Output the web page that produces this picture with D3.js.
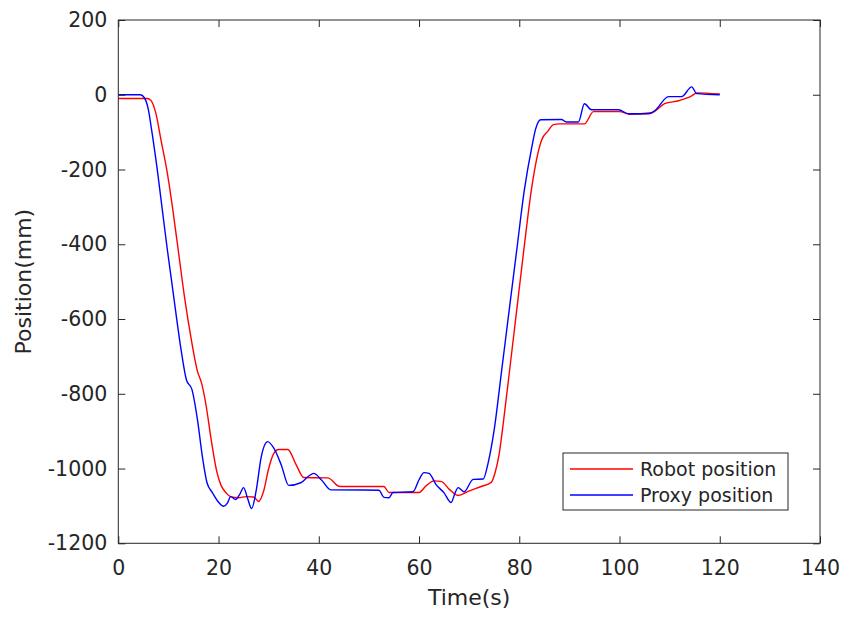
<!DOCTYPE html>
<html>
<head>
<meta charset="utf-8">
<script src="https://cdn.jsdelivr.net/npm/d3@7"></script>
<style>
  body { margin: 0; background: #fff; }
  svg { display: block; font-family: "DejaVu Sans", sans-serif; }
</style>
</head>
<body>
<svg id="chart" width="845" height="619"></svg>
<script>
// tick values
const xTicks = [0, 20, 40, 60, 80, 100, 120, 140];
const yTicks = [200, 0, -200, -400, -600, -800, -1000, -1200];

// Robot position (red) - time (s) and position (mm)
const robotTime = [0, 5.8, 6.5, 7.5, 8.5, 9.7, 10.8, 12, 13.2, 14.5, 15.8, 16.6, 17.5, 18.5, 19.7, 20.5,
  21.5, 22.4, 24, 25.5, 27, 28, 29, 30, 31, 32, 33.8, 35.5, 37, 41.8, 44.2, 53, 54, 60, 61.5, 63,
  64.5, 66, 67.8, 69.8, 72.4, 74.4, 75.2, 76, 76.8, 78, 79.5, 81, 82.4, 83.5, 84.5, 85.8, 86.8,
  88, 93, 94.8, 100, 102, 106.4, 109, 111.8, 114.4, 115.4, 120];
const robotPos = [-10, -10, -15, -50, -120, -203, -300, -420, -540, -650, -740, -771, -830, -920, -1011, -1045,
  -1065, -1075, -1078, -1075, -1076, -1088, -1060, -1000, -960, -949, -949, -990, -1024, -1025, -1048, -1048, -1064, -1064, -1045, -1033,
  -1035, -1055, -1072, -1061, -1048, -1037, -1010, -960, -880, -745, -575, -405, -256, -170, -120, -96, -80,
  -78, -78, -45, -45, -52, -48, -24, -16, -3, 5, 2];

// Proxy position (blue)
const proxyTime = [0, 4.4, 5.2, 6, 6.6, 7.8, 8.8, 9.8, 10.5, 11.5, 12.5, 13.6, 14.7, 15.8, 16.8, 17.7,
  18.8, 20, 21, 21.8, 22.4, 23.4, 24.2, 25, 25.8, 26.6, 27.5, 28.5, 29.8, 31, 32.5, 34, 36.4, 38,
  39, 40.5, 42.4, 52, 53, 54, 54.8, 58.8, 60, 61, 62, 63.4, 65, 66.4, 67.2, 67.8, 69, 70.8, 72.8,
  73.8, 75, 76.5, 78, 79.5, 81, 82.5, 83.3, 84.3, 88.4, 89.4, 91.8, 93, 94.4, 99.8, 101.8, 105.8,
  107, 109.8, 112.4, 114.4, 115.4, 120];
const proxyPos = [0, 0, -8, -40, -90, -203, -310, -416, -485, -585, -680, -763, -789, -870, -970, -1038,
  -1065, -1090, -1101, -1092, -1075, -1083, -1070, -1051, -1080, -1107, -1060, -970, -928, -945, -990, -1045, -1038, -1020,
  -1013, -1030, -1057, -1058, -1077, -1078, -1064, -1062, -1030, -1011, -1013, -1043, -1065, -1091, -1065, -1051, -1062, -1029, -1028,
  -984, -896, -736, -575, -415, -256, -140, -90, -67, -66, -73, -73, -24, -40, -40, -51, -51,
  -43, -5, -5, 21, 3, 0];

const seriesNames = ['Robot position', 'Proxy position'];
const seriesColors = ['#ff0000', '#0000ff'];

const svg = d3.select('#chart');
const margin = { left: 118.3, top: 20, right: 25, bottom: 75.7 };
const width = 845 - margin.left - margin.right;
const height = 619 - margin.top - margin.bottom;
const axisColor = '#262626';

const x = d3.scaleLinear().domain([0, 140]).range([0, width]);
const y = d3.scaleLinear().domain([-1200, 200]).range([height, 0]);

const g = svg.append('g').attr('transform', `translate(${margin.left},${margin.top})`);

// series
const line = d3.line()
  .x(d => x(d[0]))
  .y(d => y(d[1]))
  .curve(d3.curveMonotoneX);

const robot = robotTime.map((t, i) => [t, robotPos[i]]);
const proxy = proxyTime.map((t, i) => [t, proxyPos[i]]);

[robot, proxy].forEach((data, i) => {
  g.append('path')
    .datum(data)
    .attr('fill', 'none')
    .attr('stroke', seriesColors[i])
    .attr('stroke-width', 1.4)
    .attr('stroke-linejoin', 'round')
    .attr('d', line);
});

// axes (ticks pointing inward, on all sides)
const fmt = v => String(v);
g.append('g')
  .attr('transform', `translate(0,${height})`)
  .call(d3.axisBottom(x).tickValues(xTicks).tickFormat(fmt).tickSizeInner(-7).tickSizeOuter(0).tickPadding(17));
g.append('g')
  .call(d3.axisLeft(y).tickValues(yTicks).tickFormat(fmt).tickSizeInner(-7).tickSizeOuter(0).tickPadding(11));
g.append('g')
  .call(d3.axisTop(x).tickValues(xTicks).tickSizeInner(-7).tickSizeOuter(0).tickFormat(''));
g.append('g')
  .attr('transform', `translate(${width},0)`)
  .call(d3.axisRight(y).tickValues(yTicks).tickSizeInner(-7).tickSizeOuter(0).tickFormat(''));

g.selectAll('.domain').remove();
g.selectAll('.tick line').attr('stroke', axisColor);
g.selectAll('.tick text')
  .attr('fill', axisColor)
  .style('font-size', '20.5px')
  .style('font-family', '"DejaVu Sans", sans-serif');

// box
g.append('rect')
  .attr('width', width)
  .attr('height', height)
  .attr('fill', 'none')
  .attr('stroke', axisColor)
  .attr('stroke-width', 1);

// axis labels
svg.append('text')
  .attr('x', margin.left + width / 2)
  .attr('y', 605)
  .attr('text-anchor', 'middle')
  .attr('fill', axisColor)
  .style('font-size', '22px')
  .text('Time(s)');

svg.append('text')
  .attr('transform', `translate(31,${margin.top + height / 2}) rotate(-90)`)
  .attr('text-anchor', 'middle')
  .attr('fill', axisColor)
  .style('font-size', '22px')
  .text('Position(mm)');

// legend
const legend = svg.append('g').attr('transform', 'translate(563,453)');
legend.append('rect')
  .attr('width', 225)
  .attr('height', 57)
  .attr('fill', '#fff')
  .attr('stroke', axisColor)
  .attr('stroke-width', 1);

seriesNames.forEach((name, i) => {
  const ly = 16 + i * 26;
  legend.append('line')
    .attr('x1', 7).attr('x2', 70)
    .attr('y1', ly).attr('y2', ly)
    .attr('stroke', seriesColors[i])
    .attr('stroke-width', 1.4);
  legend.append('text')
    .attr('x', 77)
    .attr('y', ly)
    .attr('dy', '0.35em')
    .attr('fill', axisColor)
    .style('font-size', '19px')
    .text(name);
});
</script>
</body>
</html>
